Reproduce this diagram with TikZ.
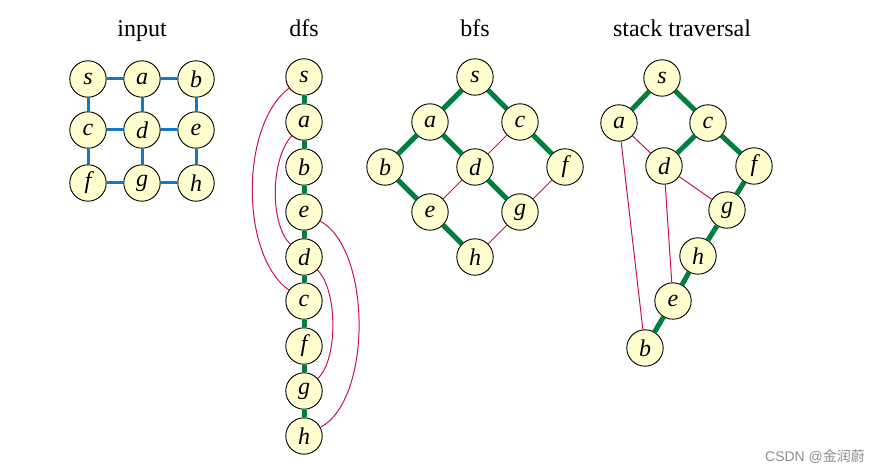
\documentclass[tikz,border=0pt]{standalone}
\usepackage{fontspec}
\setmainfont{Liberation Serif}
\newfontfamily\cjkfont{Noto Sans CJK SC}
\newfontfamily\wmfont{Liberation Sans}
\definecolor{nodefill}{RGB}{255,255,208}
\definecolor{gblue}{RGB}{20,120,200}
\definecolor{ggreen}{RGB}{0,128,64}
\definecolor{gred}{RGB}{200,20,75}
\begin{document}
\begin{tikzpicture}[x=0.5pt,y=-0.5pt,
  vtx/.style={circle,draw=black,line width=0.45pt,fill=nodefill,minimum size=18.2pt,inner sep=0pt,font=\fontsize{12}{13}\selectfont\itshape},
  ttl/.style={anchor=base,font=\fontsize{12}{14}\selectfont},
  inedge/.style={draw=gblue,line width=1.5pt},
  tree/.style={draw=ggreen,line width=2.5pt},
  back/.style={draw=gred,line width=0.5pt}]
\useasboundingbox (0,0) rectangle (884,475);
% titles
\node[ttl] (t1) at (142,37) {input};
\node[ttl] (t2) at (304,37) {dfs};
\node[ttl] (t3) at (475,37) {bfs};
\node[ttl] (t4) at (682,37) {stack traversal};
% input
\node[vtx] (is) at (88,79) {s};
\node[vtx] (ia) at (142,79) {a};
\node[vtx] (ib) at (196,79) {b};
\node[vtx] (ic) at (88,130) {c};
\node[vtx] (id) at (142,130) {d};
\node[vtx] (ie) at (196,130) {e};
\node[vtx] (if) at (88,183) {f};
\node[vtx] (ig) at (142,183) {g};
\node[vtx] (ih) at (196,183) {h};
\draw[inedge] (is)--(ia) (ia)--(ib) (ic)--(id) (id)--(ie) (if)--(ig) (ig)--(ih)
  (is)--(ic) (ic)--(if) (ia)--(id) (id)--(ig) (ib)--(ie) (ie)--(ih);
% dfs
\node[vtx] (ds) at (304,77) {s};
\node[vtx] (da) at (304,122) {a};
\node[vtx] (db) at (304,167) {b};
\node[vtx] (de) at (304,212) {e};
\node[vtx] (dd) at (304,257) {d};
\node[vtx] (dc) at (304,301) {c};
\node[vtx] (df) at (304,346) {f};
\node[vtx] (dg) at (304,391) {g};
\node[vtx] (dh) at (304,436) {h};
\draw[tree] (ds)--(da) (da)--(db) (db)--(de) (de)--(dd) (dd)--(dc) (dc)--(df) (df)--(dg) (dg)--(dh);
\draw[back] (ds) .. controls (240,125) and (240,255) .. (dc);
\draw[back] (da) .. controls (270,160) and (270,225) .. (dd);
\draw[back] (de) .. controls (372,250) and (372,400) .. (dh);
\draw[back] (dd) .. controls (338,290) and (338,360) .. (dg);
% bfs
\node[vtx] (bs) at (475,77) {s};
\node[vtx] (ba) at (430,122) {a};
\node[vtx] (bc) at (520,122) {c};
\node[vtx] (bb) at (385,167) {b};
\node[vtx] (bd) at (475,167) {d};
\node[vtx] (bf) at (565,167) {f};
\node[vtx] (be) at (430,212) {e};
\node[vtx] (bg) at (520,212) {g};
\node[vtx] (bh) at (475,257) {h};
\draw[tree] (bs)--(ba) (bs)--(bc) (ba)--(bb) (ba)--(bd) (bc)--(bf) (bb)--(be) (bd)--(bg) (be)--(bh);
\draw[back] (bc)--(bd) (bd)--(be) (bf)--(bg) (bg)--(bh);
% stack traversal
\node[vtx] (ss) at (662,78) {s};
\node[vtx] (sa) at (619,123) {a};
\node[vtx] (sc) at (708,123) {c};
\node[vtx] (sd) at (664,166) {d};
\node[vtx] (sf) at (754,166) {f};
\node[vtx] (sg) at (727,210) {g};
\node[vtx] (sh) at (698,256) {h};
\node[vtx] (se) at (673,301) {e};
\node[vtx] (sb) at (645,348) {b};
\draw[tree] (ss)--(sa) (ss)--(sc) (sc)--(sd) (sc)--(sf) (sf)--(sg) (sg)--(sh) (sh)--(se) (se)--(sb);
\draw[back] (sa)--(sd) (sa)--(sb) (sd)--(sg) (sd)--(se);
% watermark
\node[anchor=base east,text=black!45,font=\fontsize{7}{8}\selectfont] (wm) at (872,462) {\wmfont CSDN @\cjkfont 金润蔚};
\end{tikzpicture}
\end{document}
